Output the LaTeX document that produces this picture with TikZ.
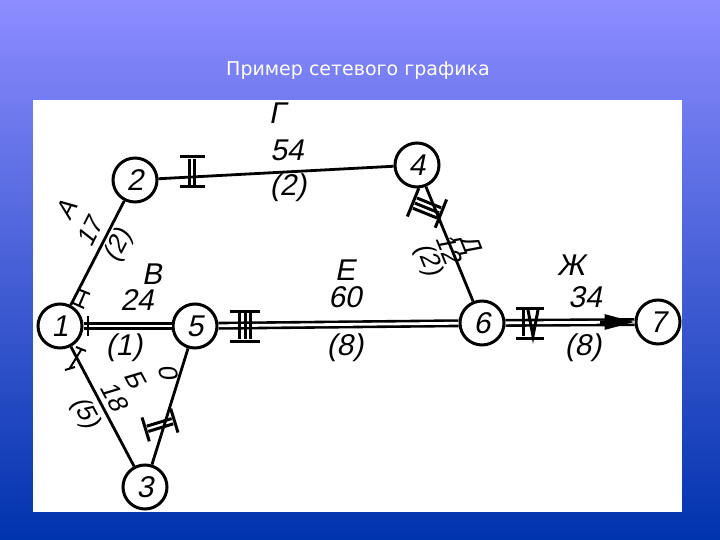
\documentclass[tikz,border=0pt]{standalone}
\usepackage{fontspec}
\setsansfont{DejaVu Sans}
\newfontfamily\lbl{Liberation Sans}[FakeSlant=0.2]
\usetikzlibrary{arrows.meta}
\newcommand\romtick[4]{% x y angle count
  \begin{scope}[shift={(#1,#2)},rotate=#3,line width=3pt]
    \foreach \k in {1,...,#4}{\draw ({(\k-(#4+1)/2)*5.5},-13) -- ({(\k-(#4+1)/2)*5.5},13);}
    \draw ({-(#4)*2.75-7},-15) -- ({(#4)*2.75+7},-15);
    \draw ({-(#4)*2.75-7},15) -- ({(#4)*2.75+7},15);
  \end{scope}}
\begin{document}
\begin{tikzpicture}[x=1pt,y=-1pt,
  ev/.style={circle,draw,line width=3pt,minimum size=44pt,inner sep=0pt,font=\lbl\fontsize{30}{30}\selectfont,fill=white},
  job/.style={line width=2.8pt},
  crit/.style={double,double distance=2.8pt,line width=2.6pt},
  lab/.style={font=\lbl\fontsize{30}{30}\selectfont,inner sep=0pt},
  rlab/.style={font=\lbl\fontsize{26}{26}\selectfont,inner sep=0pt}]
\useasboundingbox (0,0) rectangle (720,540);
\shade[top color=blue!45!white,bottom color=blue!60!black!80!cyan] (0,0) rectangle (720,540);
\node[font=\sffamily\fontsize{19}{19}\selectfont,text=white] (title) at (358,71) {Пример сетевого графика};
\fill[white] (33,100) rectangle (682,512);
\node[ev] (n1) at (60,326) {1};
\node[ev] (n2) at (135,180) {2};
\node[ev] (n3) at (145,487) {3};
\node[ev] (n4) at (417,165) {4};
\node[ev] (n5) at (195,326) {5};
\node[ev] (n6) at (482,323) {6};
\node[ev] (n7) at (658,322) {7};
\coordinate (ab) at (600,322);
\draw[job] (n1) -- (n2);
\draw[job] (n1) -- (n3);
\draw[job] (n2) -- (n4);
\draw[job] (n4) -- (n6);
\draw[job] (n3) -- (n5);
\draw[crit] (n1) -- (n5);
\draw[crit] (n5) -- (n6);
\draw[crit] (n6) -- (n7);
\draw[-{Triangle[length=30pt,width=15pt]},line width=3pt] (ab) -- (n7);
% roman ticks
\romtick{192}{172}{0}{2}
\romtick{245}{326}{0}{3}
\romtick{427}{208}{68}{3}
\romtick{160}{425}{-73}{2}
\begin{scope}[shift={(530,323)},line width=3pt]
  \draw (-7,-13) -- (-7,13); \draw (-2,-13) -- (3,13) -- (8,-13);
  \draw (-14,-15) -- (14,-15); \draw (-14,15) -- (14,15);
\end{scope}
\begin{scope}[line width=2pt]
  \draw (80,290) -- (90,294) (85,292) -- (79,306) (73,303) -- (84,308);
  \draw (88,316) -- (88,336);
  \draw (65,370) -- (75,367) (70,368) -- (81,350) (76,347) -- (86,351);
\end{scope}
% labels
\node[lab] (g) at (277,113) {Г};
\node[lab] (g1) at (287,150) {54};
\node[lab] (g2) at (288,188) {(2)};
\node[rlab,rotate=63] (a) at (66,210) {А};
\node[rlab,rotate=63] (a1) at (90,232) {17};
\node[rlab,rotate=63] (a2) at (119,246) {(2)};
\node[lab] (v) at (152,274) {В};
\node[lab] (v1) at (137,300) {24};
\node[lab] (v2) at (124,348) {(1)};
\node[lab] (e) at (345,270) {Е};
\node[lab] (e1) at (345,297) {60};
\node[lab] (e2) at (345,348) {(8)};
\node[rlab,rotate=-68] (d) at (469,244) {Д};
\node[rlab,rotate=-68] (d1) at (449,249) {12};
\node[rlab,rotate=-68] (d2) at (428,260) {(2)};
\node[lab] (zh) at (571,265) {Ж};
\node[lab] (zh1) at (585,297) {34};
\node[lab] (zh2) at (583,348) {(8)};
\node[rlab,rotate=-62] (b) at (135,379) {Б};
\node[rlab,rotate=-62] (b1) at (114,396) {18};
\node[rlab,rotate=-62] (b2) at (85,413) {(5)};
\node[rlab,rotate=-78] (z) at (168,372) {0};
\end{tikzpicture}
\end{document}
